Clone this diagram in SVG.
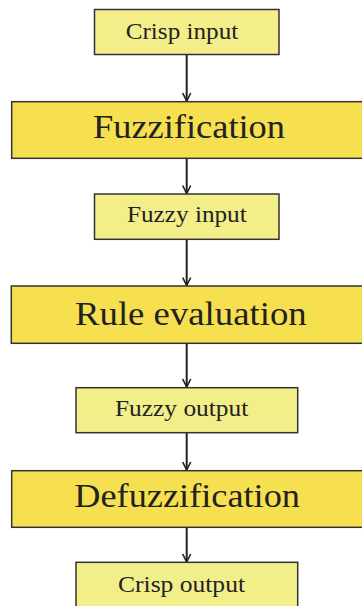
<svg xmlns="http://www.w3.org/2000/svg" width="362" height="606" viewBox="0 0 362 606">
<defs>
<style>
.lt{fill:#F2EE8A;stroke:#333;stroke-width:1.5}
.dk{fill:#F7E04F;stroke:#333;stroke-width:1.5}
.s{font-family:"Liberation Serif","Times New Roman",serif;font-size:23.5px;fill:#222}
.b{font-family:"Liberation Serif","Times New Roman",serif;font-size:34.5px;fill:#222}
.c{stroke:#222;stroke-width:2;fill:none}
</style>
<marker id="ah" markerWidth="10" markerHeight="10" refX="9" refY="5" orient="auto" markerUnits="userSpaceOnUse">
<path d="M1,1 L9,5 L1,9" fill="none" stroke="#222" stroke-width="1.6"/>
</marker>
</defs>
<rect width="362" height="606" fill="#fff"/>
<g id="connectors">
<line class="c" x1="186.7" y1="54.5" x2="186.7" y2="101" marker-end="url(#ah)"/>
<line class="c" x1="186.7" y1="158.5" x2="186.7" y2="193.5" marker-end="url(#ah)"/>
<line class="c" x1="186.7" y1="239.5" x2="186.7" y2="285.5" marker-end="url(#ah)"/>
<line class="c" x1="186.7" y1="343.5" x2="186.7" y2="387" marker-end="url(#ah)"/>
<line class="c" x1="186.7" y1="433" x2="186.7" y2="470" marker-end="url(#ah)"/>
<line class="c" x1="186.7" y1="527.5" x2="186.7" y2="562" marker-end="url(#ah)"/>
</g>
<g id="crisp-input">
<rect class="lt" x="94.5" y="9.5" width="184.5" height="45"/>
<text class="s" x="125.7" y="38.5" textLength="112.6" lengthAdjust="spacingAndGlyphs">Crisp input</text>
</g>
<g id="fuzzification">
<rect class="dk" x="11.7" y="101.7" width="360" height="56.6"/>
<text class="b" x="93" y="137.7" textLength="192" lengthAdjust="spacingAndGlyphs">Fuzzification</text>
</g>
<g id="fuzzy-input">
<rect class="lt" x="94.5" y="194" width="184.5" height="45.3"/>
<text class="s" x="127" y="222.3" textLength="119.7" lengthAdjust="spacingAndGlyphs">Fuzzy input</text>
</g>
<g id="rule-evaluation">
<rect class="dk" x="11.3" y="286" width="360" height="57.3"/>
<text class="b" x="75" y="325" textLength="231.7" lengthAdjust="spacingAndGlyphs">Rule evaluation</text>
</g>
<g id="fuzzy-output">
<rect class="lt" x="76" y="387.7" width="221.7" height="45"/>
<text class="s" x="115" y="415.7" textLength="133.3" lengthAdjust="spacingAndGlyphs">Fuzzy output</text>
</g>
<g id="defuzzification">
<rect class="dk" x="11.7" y="470.7" width="360" height="56.6"/>
<text class="b" x="74.3" y="506.7" textLength="225.7" lengthAdjust="spacingAndGlyphs">Defuzzification</text>
</g>
<g id="crisp-output">
<rect class="lt" x="76" y="562.3" width="221.7" height="60"/>
<text class="s" x="118" y="592.3" textLength="127" lengthAdjust="spacingAndGlyphs">Crisp output</text>
</g>
</svg>
